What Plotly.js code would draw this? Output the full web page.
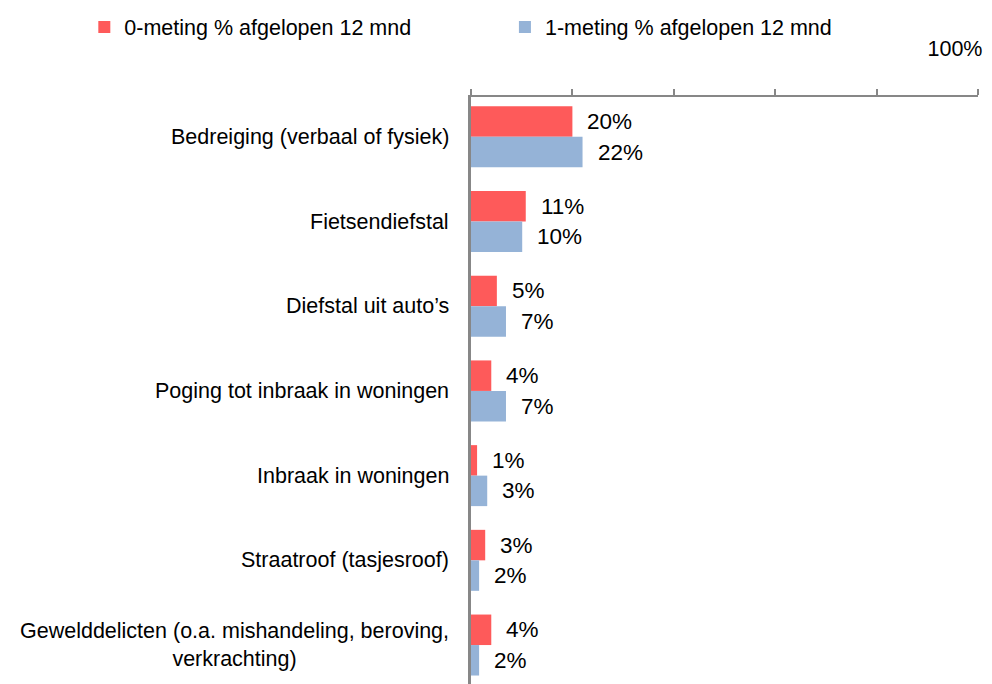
<!DOCTYPE html>
<html>
<head>
<meta charset="utf-8">
<script src="https://cdn.plot.ly/plotly-3.0.1.min.js"></script>
<style>
html,body{margin:0;padding:0;background:#fff;}
#chart{width:992px;height:684px;}
</style>
</head>
<body>
<div id="chart"></div>
<script>
var categories = [
  "Bedreiging (verbaal of fysiek)",
  "Fietsendiefstal",
  "Diefstal uit auto’s",
  "Poging tot inbraak in woningen",
  "Inbraak in woningen",
  "Straatroof (tasjesroof)",
  "Gewelddelicten (o.a. mishandeling, beroving,<br>verkrachting)"
];
var series0Name = "0-meting % afgelopen 12 mnd";
var series1Name = "1-meting % afgelopen 12 mnd";
var series0 = [20, 10.8, 5.1, 4, 1.2, 2.8, 4];
var series1 = [22, 10.1, 6.9, 6.9, 3.2, 1.6, 1.6];
var labels0 = ["20%", "11%", "5%", "4%", "1%", "3%", "4%"];
var labels1 = ["22%", "10%", "7%", "7%", "3%", "2%", "2%"];
var xTickVals = [0, 20, 40, 60, 80, 100];
var xTickText = ["", "", "", "", "", "100%"];

var FONT = "Liberation Sans, Arial, sans-serif";
var RED = "#FE5A5A";
var BLUE = "#95B3D7";
var GRAY = "#878787";

var traces = [
  {type: "bar", orientation: "h", name: series0Name, y: categories, x: series0,
   marker: {color: RED}, hoverinfo: "x", legend: "legend"},
  {type: "bar", orientation: "h", name: series1Name, y: categories, x: series1,
   marker: {color: BLUE}, hoverinfo: "x", legend: "legend2"}
];

var annotations = [];
var off = 0.18;
categories.forEach(function (c, i) {
  annotations.push({xref: "paper", yref: "y", x: 0, y: i, xanchor: "right", yanchor: "middle",
    xshift: -20, text: c, showarrow: false, align: "center",
    font: {family: FONT, size: 21.5, color: "#000"}});
  annotations.push({xref: "x", yref: "y", x: series0[i], y: i - off, xanchor: "left", yanchor: "middle",
    xshift: 13, text: labels0[i], showarrow: false, font: {family: FONT, size: 22.5, color: "#000"}});
  annotations.push({xref: "x", yref: "y", x: series1[i], y: i + off, xanchor: "left", yanchor: "middle",
    xshift: 13, text: labels1[i], showarrow: false, font: {family: FONT, size: 22.5, color: "#000"}});
});

var legendBase = {orientation: "h", xref: "container", yref: "container", y: 0.9905,
  xanchor: "left", yanchor: "top", itemwidth: 30,
  font: {family: FONT, size: 21.5, color: "#000"}};

var layout = {
  width: 992, height: 684,
  paper_bgcolor: "#fff", plot_bgcolor: "#fff",
  margin: {l: 471, r: 14, t: 97, b: 0, pad: 0},
  font: {family: FONT, size: 21, color: "#000"},
  barmode: "group", bargap: 0.28, bargroupgap: 0,
  showlegend: true,
  legend: Object.assign({}, legendBase, {x: 0.085}),
  legend2: Object.assign({}, legendBase, {x: 0.509}),
  xaxis: {side: "top", range: [0, 100], tickvals: xTickVals, ticktext: xTickText,
    showgrid: false, zeroline: false, showline: true, linecolor: GRAY, linewidth: 2,
    ticks: "outside", ticklen: 6, tickwidth: 2, tickcolor: GRAY,
    ticklabelstandoff: 24, ticklabelshift: -23, automargin: false,
    tickfont: {family: FONT, size: 21.5, color: "#000"}, fixedrange: true},
  yaxis: {type: "category", range: [6.46, -0.47], showticklabels: false, ticks: "",
    showgrid: false, zeroline: false, showline: true, linecolor: GRAY, linewidth: 3,
    automargin: false, fixedrange: true},
  annotations: annotations
};

Plotly.newPlot("chart", traces, layout, {displayModeBar: false, staticPlot: true});
</script>
</body>
</html>
